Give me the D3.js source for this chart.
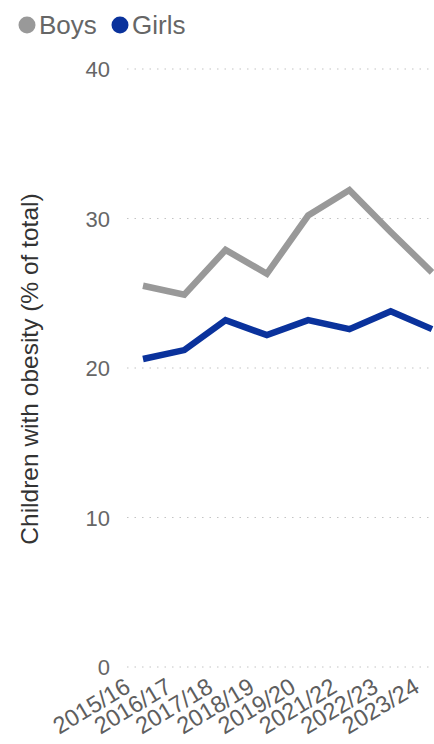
<!DOCTYPE html>
<html>
<head>
<meta charset="utf-8">
<script src="https://cdn.jsdelivr.net/npm/d3@7"></script>
<style>
  html, body { margin: 0; padding: 0; background: #fff; }
  svg { display: block; font-family: "Liberation Sans", Arial, sans-serif; }
</style>
</head>
<body>
<svg id="chart" width="434" height="744"></svg>
<script>
const categories = ["2015/16", "2016/17", "2017/18", "2018/19", "2019/20", "2021/22", "2022/23", "2023/24"];
const boys  = [25.5, 24.9, 27.9, 26.3, 30.2, 31.9, 29.1, 26.4];
const girls = [20.6, 21.2, 23.2, 22.2, 23.2, 22.6, 23.8, 22.6];
const yTicks = [0, 10, 20, 30, 40];
const seriesNames = ["Boys", "Girls"];
const seriesColors = ["#999999", "#0a329c"];

const svg = d3.select("#chart");

const x = d3.scalePoint().domain(categories).range([143, 432]);
const y = d3.scaleLinear().domain([0, 40]).range([667, 69]);

// gridlines + y tick labels
const yAxis = d3.axisLeft(y).tickValues(yTicks).tickSize(0).tickPadding(0);
const gy = svg.append("g").attr("transform", "translate(110,0)").call(yAxis);
gy.select(".domain").remove();
gy.selectAll("text")
  .attr("x", 0)
  .attr("dy", "0.35em")
  .style("font-size", "22px")
  .style("font-family", "'Liberation Sans', Arial, sans-serif")
  .attr("fill", "#666666");

svg.append("g").selectAll("line")
  .data(yTicks)
  .join("line")
  .attr("x1", 127).attr("x2", 434)
  .attr("y1", d => y(d)).attr("y2", d => y(d))
  .attr("stroke", "#c4c4c4")
  .attr("stroke-width", 1.2)
  .attr("stroke-dasharray", "1.5,6");

// x labels
const xAxis = d3.axisBottom(x).tickSize(0).tickPadding(0);
const gx = svg.append("g").call(xAxis);
gx.select(".domain").remove();
gx.selectAll(".tick").attr("transform", null);
gx.selectAll(".tick text")
  .attr("x", null).attr("y", null).attr("dy", null)
  .attr("text-anchor", "end")
  .attr("transform", d => `translate(${x(d) - 11},${691}) rotate(-31)`)
  .style("font-size", "23.5px")
  .style("font-family", "'Liberation Sans', Arial, sans-serif")
  .attr("fill", "#5e5e5e");

// lines
const line = d3.line().x((d, i) => x(categories[i])).y(d => y(d));
[boys, girls].forEach((s, k) => {
  svg.append("path")
    .datum(s)
    .attr("d", line)
    .attr("fill", "none")
    .attr("stroke", seriesColors[k])
    .attr("stroke-width", 6.5)
    .attr("stroke-linejoin", "miter")
    .attr("stroke-linecap", "butt");
});

// y axis title
svg.append("text")
  .attr("transform", "translate(38,369) rotate(-90)")
  .attr("text-anchor", "middle")
  .style("font-size", "24.5px")
  .attr("fill", "#333333")
  .text("Children with obesity (% of total)");

// legend
const legendX = [27, 120];
const lg = svg.append("g");
seriesNames.forEach((n, i) => {
  lg.append("circle").attr("cx", legendX[i]).attr("cy", 25).attr("r", 8.5).attr("fill", seriesColors[i]);
  lg.append("text").attr("x", legendX[i] + 12).attr("y", 34)
    .style("font-size", "26px").attr("fill", "#666666").text(n);
});
</script>
</body>
</html>
